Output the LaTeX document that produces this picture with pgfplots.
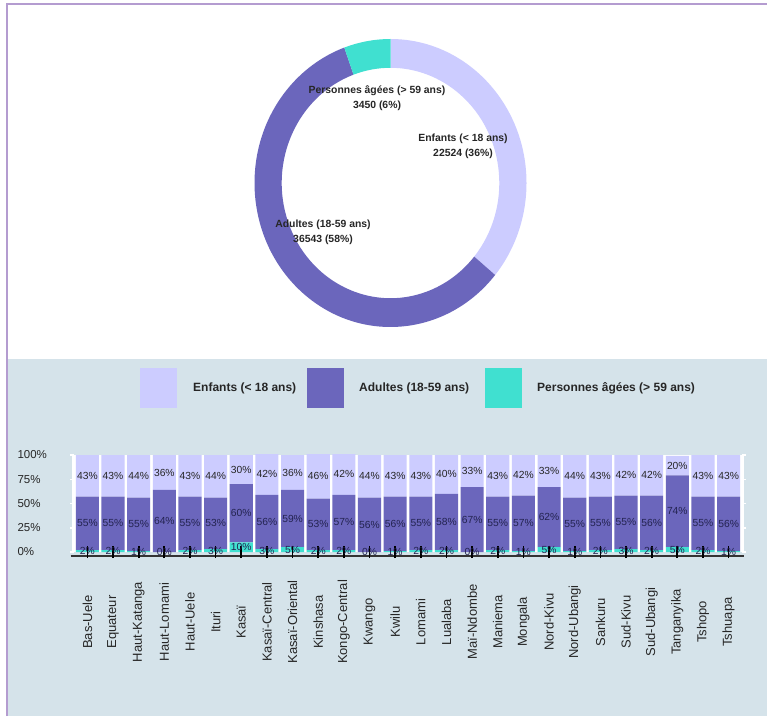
\documentclass[border=0pt]{standalone}
\usepackage{pgfplots}
\usepackage{pgfplotstable}
\pgfplotsset{compat=1.18}
\usepackage{fontspec}
\setmainfont{Liberation Sans}
\definecolor{cEnf}{HTML}{CCCCFF}
\definecolor{cAdu}{HTML}{6B66BC}
\definecolor{cPer}{HTML}{40E0D0}
\definecolor{panel}{HTML}{D5E3EA}
\definecolor{framec}{HTML}{B49CD0}
\definecolor{txt}{HTML}{262626}
\definecolor{navy}{HTML}{232350}

\pgfplotstableread{
i E A P name
0 43 55 2 Bas-Uele
1 43 55 2 Equateur
2 44 55 1 Haut-Katanga
3 36 64 0 Haut-Lomami
4 43 55 2 Haut-Uele
5 44 53 3 Ituri
6 30 60 10 Kasaï
7 42 56 3 Kasaï-Central
8 36 59 5 Kasaï-Oriental
9 46 53 2 Kinshasa
10 42 57 2 Kongo-Central
11 44 56 0 Kwango
12 43 56 1 Kwilu
13 43 55 2 Lomami
14 40 58 2 Lualaba
15 33 67 0 Maï-Ndombe
16 43 55 2 Maniema
17 42 57 1 Mongala
18 33 62 5 Nord-Kivu
19 44 55 1 Nord-Ubangi
20 43 55 2 Sankuru
21 42 55 3 Sud-Kivu
22 42 56 2 Sud-Ubangi
23 20 74 5 Tanganyika
24 43 55 2 Tshopo
25 43 56 1 Tshuapa
}\provdata

% donut totals
\newcommand{\nEnf}{22524}
\newcommand{\nAdu}{36543}
\newcommand{\nPer}{3450}
\edef\aA{90}
\edef\aB{\fpeval{round(90-360*\nEnf/(\nEnf+\nAdu+\nPer),3)}}
\edef\aC{\fpeval{round(\aB-360*\nAdu/(\nEnf+\nAdu+\nPer),3)}}
\edef\aD{\fpeval{round(\aC-360*\nPer/(\nEnf+\nAdu+\nPer),3)}}

\newcommand{\ringseg}[3]{%
  \fill[#1] (axis cs:{cos(#2)},{sin(#2)}) arc[start angle=#2, end angle=#3, radius=1]
    -- (axis cs:{0.8*cos(#3)},{0.8*sin(#3)}) arc[start angle=#3, end angle=#2, radius=0.8] -- cycle;}

\begin{document}
\begin{tikzpicture}
\fill[white] (0pt,0pt) rectangle (767pt,716pt);
\fill[panel] (8pt,0pt) rectangle (767pt,357pt);
\draw[framec, line width=2pt] (7pt,0pt) -- (7pt,712pt) -- (767pt,712pt);

% ---------- donut ----------
\begin{axis}[at={(390.5pt,533pt)}, anchor=center, scale only axis,
  width=272pt, height=288pt, xmin=-1, xmax=1, ymin=-1, ymax=1,
  hide axis, clip=false]
  \ringseg{cEnf}{\aA}{\aB}
  \ringseg{cAdu}{\aB}{\aC}
  \ringseg{cPer}{\aC}{\aD}
\end{axis}
\begin{scope}[every node/.style={align=center, text=txt, font=\bfseries\fontsize{10.4}{15}\selectfont}]
\node at (377pt,617.5pt) {Personnes âgées (> 59 ans)\\3450 (6\%)};
\node at (463pt,569.5pt) {Enfants (< 18 ans)\\22524 (36\%)};
\node at (323pt,484pt) {Adultes (18-59 ans)\\36543 (58\%)};
\end{scope}

% ---------- legend ----------
\begin{scope}[every node/.style={anchor=west, inner sep=0pt, text=txt, font=\bfseries\fontsize{12}{14}\selectfont}]
\fill[cEnf] (140pt,308pt) rectangle (177pt,348pt);
\node at (193pt,328pt) {Enfants (< 18 ans)};
\fill[cAdu] (307pt,308pt) rectangle (344pt,348pt);
\node at (359pt,328pt) {Adultes (18-59 ans)};
\fill[cPer] (485pt,308pt) rectangle (522pt,348pt);
\node at (537pt,328pt) {Personnes âgées (> 59 ans)};
\end{scope}

% ---------- stacked bars ----------
\begin{axis}[at={(72pt,164pt)}, anchor=south west, scale only axis,
  width=672pt, height=97pt,
  ybar stacked, bar width=0.9,
  xmin=-0.6, xmax=25.6, ymin=0, ymax=100,
  axis background/.style={fill=white},
  axis line style={draw=none},
  xtick={0,...,25}, xticklabels from table={\provdata}{name},
  ytick={0,25,50,75,100}, yticklabels={0\%,25\%,50\%,75\%,100\%},
  tick align=center, major tick length=4pt,
  xtick style={draw=none},
  ytick style={white, line width=1.5pt},
  xticklabel style={rotate=90, anchor=center, text=txt, font=\fontsize{13}{15}\selectfont},
  xticklabel shift=68pt,
  yticklabel style={anchor=west, xshift=-56pt, text=txt, font=\fontsize{11.5}{13}\selectfont},
  clip=false]
\addplot[fill=cPer, draw=none] table[x=i, y=P]{\provdata};
\addplot[fill=cAdu, draw=none] table[x=i, y=A]{\provdata};
\addplot[fill=cEnf, draw=none] table[x=i, y=E]{\provdata};
\draw[line width=2.5pt, black!80] (axis cs:-0.65,-4.3) -- (axis cs:25.6,-4.3);
\end{axis}

% ---------- labels and ticks on top ----------
\begin{axis}[at={(72pt,164pt)}, anchor=south west, scale only axis,
  width=672pt, height=97pt,
  xmin=-0.6, xmax=25.6, ymin=0, ymax=100,
  axis line style={draw=none},
  xtick={0,...,25}, xticklabel style={opacity=0}, ytick=\empty, xtick pos=lower,
  tick align=center, major tick length=12pt,
  xtick style={black, line width=1.7pt},
  axis on top, clip=false,
  /pgf/number format/assume math mode=true,
  nodes near coords={\pgfmathprintnumber{\pgfplotspointmeta}\%},
  point meta=explicit,
  every node near coord/.append style={anchor=center, inner sep=0pt, font=\fontsize{10.3}{12}\selectfont}]
\addplot[draw=none, every node near coord/.append style={text=navy}] table[x=i, y expr=\thisrow{P}/2, meta=P]{\provdata};
\addplot[draw=none, every node near coord/.append style={text=navy}] table[x=i, y expr=\thisrow{P}+\thisrow{A}/2, meta=A]{\provdata};
\addplot[draw=none, every node near coord/.append style={text=txt}] table[x=i, y expr=\thisrow{P}+\thisrow{A}+\thisrow{E}/2, meta=E]{\provdata};
\end{axis}
\pgfresetboundingbox
\path[use as bounding box] (0pt,0pt) rectangle (767pt,716pt);
\end{tikzpicture}
\end{document}
